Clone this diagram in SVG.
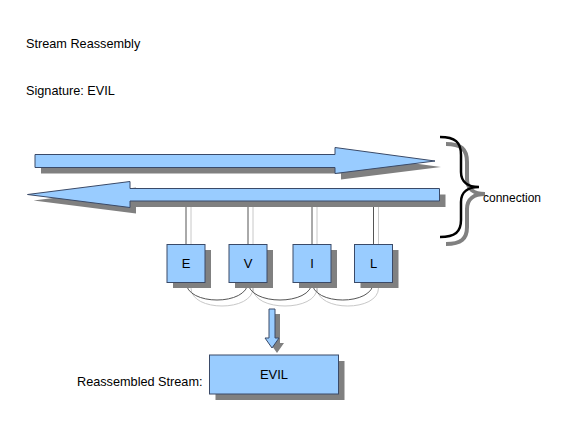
<svg xmlns="http://www.w3.org/2000/svg" width="567" height="438" viewBox="0 0 567 438">
<defs>
<style>
text{font-family:"Liberation Sans",Arial,sans-serif;fill:#000}
.t{font-size:12.7px}
.c{font-size:12px}
.shape{fill:#99ccff;stroke:#3a4a68;stroke-width:1}
.shadow{fill:#808080;stroke:none}
.ln{stroke:#555;stroke-width:1;fill:none}
.lnl{stroke:#c8c8c8;stroke-width:1;fill:none}
.lbl{font-size:13px;text-anchor:middle}
</style>
</defs>
<rect width="567" height="438" fill="#fff"/>
<text class="t" x="26" y="48">Stream Reassembly</text>
<text class="t" x="26" y="95">Signature: EVIL</text>

<g id="stream-forward">
<polygon class="shadow" transform="translate(6,6)" points="35,154.5 335,154.5 335,147.5 435,161 335,173.5 335,167.5 35,167.5"/>
<polygon class="shape" points="35,154.5 335,154.5 335,147.5 435,161 335,173.5 335,167.5 35,167.5"/>
</g>

<g id="connectors">
<line class="lnl" x1="191" y1="207" x2="191" y2="244"/>
<line class="lnl" x1="253" y1="207" x2="253" y2="244"/>
<line class="lnl" x1="317" y1="207" x2="317" y2="244"/>
<line class="lnl" x1="378.5" y1="207" x2="378.5" y2="244"/>
<line class="ln" x1="186" y1="201" x2="186" y2="244"/>
<line class="ln" x1="248" y1="201" x2="248" y2="244"/>
<line class="ln" x1="312" y1="201" x2="312" y2="244"/>
<line class="ln" x1="373.5" y1="201" x2="373.5" y2="244"/>
<path class="lnl" d="M191,288 C191,312 253,312 253,288 M253,288 C253,312 317,312 317,288 M317,288 C317,312 378.5,312 378.5,288"/>
<path class="ln" d="M186,282 C186,306 248,306 248,282 M248,282 C248,306 312,306 312,282 M312,282 C312,306 373.5,306 373.5,282"/>
</g>

<g id="stream-backward">
<polygon class="shadow" transform="translate(6,6)" points="439.5,188.5 130,188.5 130,181.5 27.5,194.5 130,207.5 130,201 439.5,201"/>
<polygon class="shape" points="439.5,188.5 130,188.5 130,181.5 27.5,194.5 130,207.5 130,201 439.5,201"/>
</g>

<g id="node-E">
<rect class="shadow" x="173" y="250" width="38" height="38"/>
<rect class="shape" x="167" y="244.5" width="38" height="38"/>
<text class="lbl" x="186" y="268">E</text>
</g>
<g id="node-V">
<rect class="shadow" x="235" y="250" width="38" height="38"/>
<rect class="shape" x="229" y="244.5" width="38" height="38"/>
<text class="lbl" x="248" y="268">V</text>
</g>
<g id="node-I">
<rect class="shadow" x="299" y="250" width="38" height="38"/>
<rect class="shape" x="293" y="244.5" width="38" height="38"/>
<text class="lbl" x="312" y="268">I</text>
</g>
<g id="node-L">
<rect class="shadow" x="360.5" y="250" width="38" height="38"/>
<rect class="shape" x="354.5" y="244.5" width="38" height="38"/>
<text class="lbl" x="373.5" y="268">L</text>
</g>

<g id="down-arrow">
<polygon class="shadow" transform="translate(5,5)" points="269,309 275,309 275,338 279,338 272,348 265,338 269,338"/>
<polygon class="shape" points="269,309 275,309 275,338 279,338 272,348 265,338 269,338"/>
</g>

<g id="node-EVIL">
<rect class="shadow" x="215.5" y="361" width="129" height="39"/>
<rect class="shape" x="209.5" y="355" width="129" height="39"/>
<text class="lbl" x="274" y="379">EVIL</text>
</g>
<text class="t" x="77" y="386">Reassembled Stream:</text>

<g id="brace">
<path transform="translate(6,7)" d="M440,137 C455,137 461,142 461,155 L461,172 C461,182 468,187 479,187 C468,187 461,192 461,202 L461,220 C461,232 455,237 440,237" fill="none" stroke="#808080" stroke-width="4"/>
<path d="M440,137 C455,137 461,142 461,155 L461,172 C461,182 468,187 479,187 C468,187 461,192 461,202 L461,220 C461,232 455,237 440,237" fill="none" stroke="#000" stroke-width="2.5"/>
</g>
<text class="c" x="483" y="202">connection</text>
</svg>
